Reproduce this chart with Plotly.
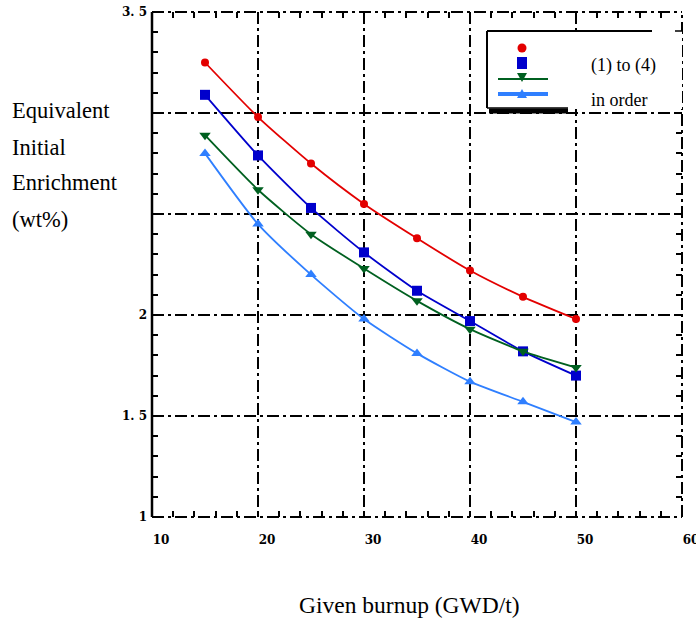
import plotly.graph_objects as go

# ---------------- data ----------------
burnup = [15, 20, 25, 30, 35, 40, 45, 50]
case1 = [3.25, 2.98, 2.75, 2.55, 2.38, 2.22, 2.09, 1.98]
case2 = [3.09, 2.79, 2.53, 2.31, 2.12, 1.97, 1.82, 1.70]
case3 = [2.89, 2.62, 2.40, 2.23, 2.07, 1.93, 1.82, 1.74]
case4 = [2.80, 2.45, 2.20, 1.98, 1.81, 1.67, 1.57, 1.47]

x_ticks = [10, 20, 30, 40, 50, 60]
y_ticks = [1, 1.5, 2, 2.5, 3, 3.5]
y_ticktext = ["1", "1. 5", "2", "", "", "3. 5"]

series = [
    ("(1)", case1, "#e30000", "circle", 8, 1.8),
    ("(2)", case2, "#0000cc", "square", 10, 1.8),
    ("(3)", case3, "#006020", "triangle-down", 10, 1.8),
    ("(4)", case4, "#2f7fff", "triangle-up", 10, 1.8),
]

W, H = 696, 621
L, R, T, B = 152, 682, 12, 517


def px(x):
    return (x - L) / (R - L)


def py(y):
    return (B - y) / (B - T)


fig = go.Figure()
for name, ys, col, sym, size, lw in series:
    fig.add_trace(go.Scatter(
        x=burnup, y=ys, mode="lines+markers", name=name,
        line=dict(color=col, width=lw, shape="spline", smoothing=0.6),
        marker=dict(symbol=sym, size=size, color=col),
        showlegend=False,
    ))

tickfont = dict(family="DejaVu Serif", size=12, color="black", weight="bold")
gdash = "12px,4px,3px,4px"

fig.update_xaxes(
    range=[10, 60], tickvals=x_ticks, ticks="inside", ticklen=6, tickwidth=1.5,
    tickcolor="black", showline=False, mirror="ticks", automargin=False,
    showgrid=True, gridcolor="black", gridwidth=1.5, griddash=gdash,
    zeroline=False, tickfont=tickfont, ticklabelshift=9, ticklabelstandoff=14,
    ticklabeloverflow="allow",
    minor=dict(dtick=2, ticks="inside", ticklen=6, tickwidth=1.5,
               tickcolor="black", showgrid=False),
)
fig.update_yaxes(
    range=[1, 3.5], tickvals=y_ticks, ticktext=y_ticktext, ticks="inside",
    ticklen=6, tickwidth=1.5, tickcolor="black", showline=False, mirror="ticks",
    automargin=False,
    showgrid=True, gridcolor="black", gridwidth=1.5, griddash=gdash,
    zeroline=False, tickfont=tickfont, ticklabelstandoff=4,
    ticklabeloverflow="allow",
    minor=dict(dtick=0.1, ticks="inside", ticklen=6, tickwidth=1.5,
               tickcolor="black", showgrid=False),
)

shapes = []
# frame
shapes.append(dict(type="line", xref="paper", yref="paper", x0=0, x1=0, y0=0, y1=1,
                   line=dict(color="black", width=2.5), layer="above"))
for (x0, y0, x1, y1) in [(0, 0, 1, 0), (0, 1, 1, 1), (1, 0, 1, 1)]:
    shapes.append(dict(type="line", xref="paper", yref="paper", x0=x0, x1=x1, y0=y0, y1=y1,
                       line=dict(color="black", width=2, dash=gdash), layer="above"))

# legend box
shapes.append(dict(type="rect", xref="paper", yref="paper", x0=px(487), x1=px(682),
                   y0=py(109), y1=py(31), fillcolor="white", line=dict(width=0), layer="above"))
shapes.append(dict(type="line", xref="paper", yref="paper", x0=px(487), x1=px(487),
                   y0=py(108), y1=py(31), line=dict(color="black", width=2), layer="above"))
shapes.append(dict(type="line", xref="paper", yref="paper", x0=px(487), x1=px(652),
                   y0=py(31), y1=py(31), line=dict(color="black", width=2), layer="above"))
shapes.append(dict(type="line", xref="paper", yref="paper", x0=px(675), x1=px(682),
                   y0=py(31), y1=py(31), line=dict(color="black", width=1.5), layer="above"))
shapes.append(dict(type="line", xref="paper", yref="paper", x0=px(487), x1=px(568),
                   y0=py(108), y1=py(108), line=dict(color="black", width=1.5), layer="above"))
shapes.append(dict(type="line", xref="paper", yref="paper", x0=px(489), x1=px(568),
                   y0=py(111), y1=py(111), line=dict(color="black", width=5), layer="above"))

# legend samples
cx = 522
shapes.append(dict(type="circle", xref="paper", yref="paper", x0=px(cx - 4.5), x1=px(cx + 4.5),
                   y0=py(52.5), y1=py(43.5), fillcolor=series[0][2], line=dict(width=0), layer="above"))
shapes.append(dict(type="rect", xref="paper", yref="paper", x0=px(cx - 5), x1=px(cx + 5),
                   y0=py(69), y1=py(57), fillcolor=series[1][2], line=dict(width=0), layer="above"))
shapes.append(dict(type="line", xref="paper", yref="paper", x0=px(498), x1=px(548),
                   y0=py(79), y1=py(79), line=dict(color=series[2][2], width=2), layer="above"))
shapes.append(dict(type="path", xref="paper", yref="paper",
                   path=f"M {px(cx-5)},{py(73)} L {px(cx+5)},{py(73)} L {px(cx)},{py(82)} Z",
                   fillcolor=series[2][2], line=dict(width=0), layer="above"))
shapes.append(dict(type="line", xref="paper", yref="paper", x0=px(498), x1=px(548),
                   y0=py(94), y1=py(94), line=dict(color=series[3][2], width=4), layer="above"))
shapes.append(dict(type="path", xref="paper", yref="paper",
                   path=f"M {px(cx-5)},{py(98)} L {px(cx+5)},{py(98)} L {px(cx)},{py(89)} Z",
                   fillcolor=series[3][2], line=dict(width=0), layer="above"))

serif = "Liberation Serif, Times New Roman, Times, serif"
ann = []
ann.append(dict(text="(1) to (4)", xref="paper", yref="paper", x=px(589), y=py(65),
                xanchor="left", yanchor="middle", showarrow=False,
                font=dict(family=serif, size=18, color="black")))
ann.append(dict(text="in order", xref="paper", yref="paper", x=px(589), y=py(100),
                xanchor="left", yanchor="middle", showarrow=False,
                font=dict(family=serif, size=18, color="black")))
for i, t in enumerate(["Equivalent", "Initial", "Enrichment", "(wt%)"]):
    ann.append(dict(text=t, xref="paper", yref="paper", x=px(10), y=py(111 + 36 * i),
                    xanchor="left", yanchor="middle", showarrow=False,
                    font=dict(family=serif, size=22.5, color="black")))
ann.append(dict(text="Given burnup (GWD/t)", xref="paper", yref="paper", x=px(409), y=py(605),
                xanchor="center", yanchor="middle", showarrow=False,
                font=dict(family=serif, size=23.5, color="black")))

fig.update_layout(
    width=W, height=H,
    margin=dict(l=L, r=W - R, t=T, b=H - B, pad=0),
    paper_bgcolor="white", plot_bgcolor="white",
    shapes=shapes, annotations=ann, showlegend=False,
)

fig.write_html("out.html")
